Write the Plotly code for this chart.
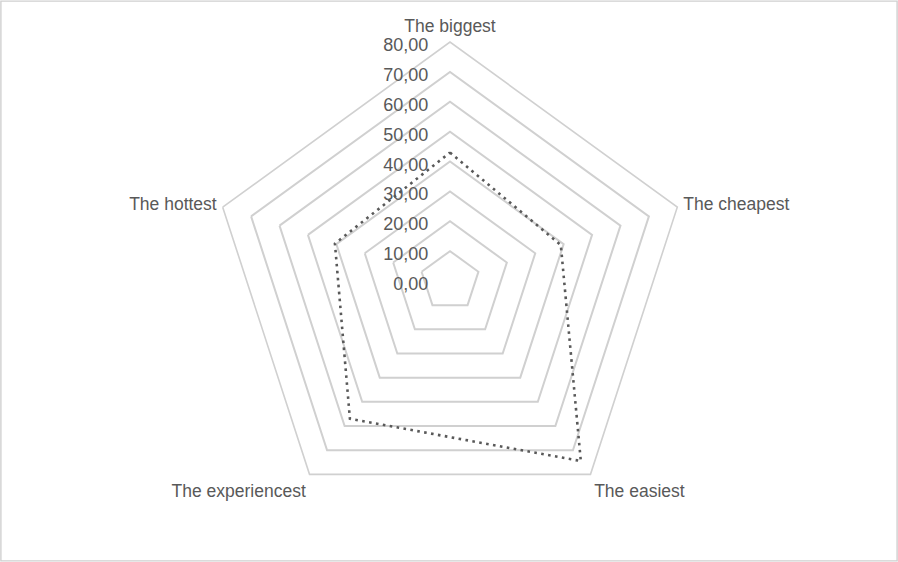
import plotly.graph_objects as go

categories = ["The biggest", "The cheapest", "The easiest", "The experiencest", "The hottest"]
values = [43, 39, 74.5, 57, 40.5]

W, H = 898, 562
cx, cy, R = 450, 281, 239

fig = go.Figure()
fig.add_trace(go.Scatterpolar(
    r=values + values[:1],
    theta=categories + categories[:1],
    mode="lines",
    line=dict(color="#595959", width=2.6, dash="2.6px,4.4px"),
    showlegend=False,
    hoverinfo="skip",
))

fig.update_layout(
    width=W, height=H,
    margin=dict(l=0, r=0, t=0, b=0),
    paper_bgcolor="white",
    plot_bgcolor="white",
    separators=",.",
    font=dict(family="Liberation Sans, Arial, sans-serif", size=17, color="#595959"),
    polar=dict(
        domain=dict(x=[(cx - R) / W, (cx + R) / W], y=[1 - (cy + R) / H, 1 - (cy - R) / H]),
        gridshape="linear",
        bgcolor="white",
        angularaxis=dict(
            rotation=90, direction="clockwise",
            showgrid=False, showline=True, linecolor="#d0d0d0", linewidth=1.6,
            ticks="outside", ticklen=2, tickcolor="rgba(0,0,0,0)",
            tickfont=dict(size=17.5, color="#595959"),
        ),
        radialaxis=dict(
            range=[0, 80], dtick=10, tick0=0, tickformat=".2f",
            angle=90, side="counterclockwise",
            showline=False, ticks="outside", ticklen=5, tickcolor="rgba(0,0,0,0)",
            gridcolor="#d0d0d0", gridwidth=1.6,
            tickfont=dict(size=18, color="#595959"),
        ),
    ),
    shapes=[dict(type="rect", xref="paper", yref="paper", x0=0.001, x1=0.999, y0=0.002, y1=0.998,
                 line=dict(color="#d0d0d0", width=1.4))],
)

fig.write_html("out.html", config={"displayModeBar": False},
               post_script="document.body.style.margin='0px';document.body.style.overflow='hidden';")
